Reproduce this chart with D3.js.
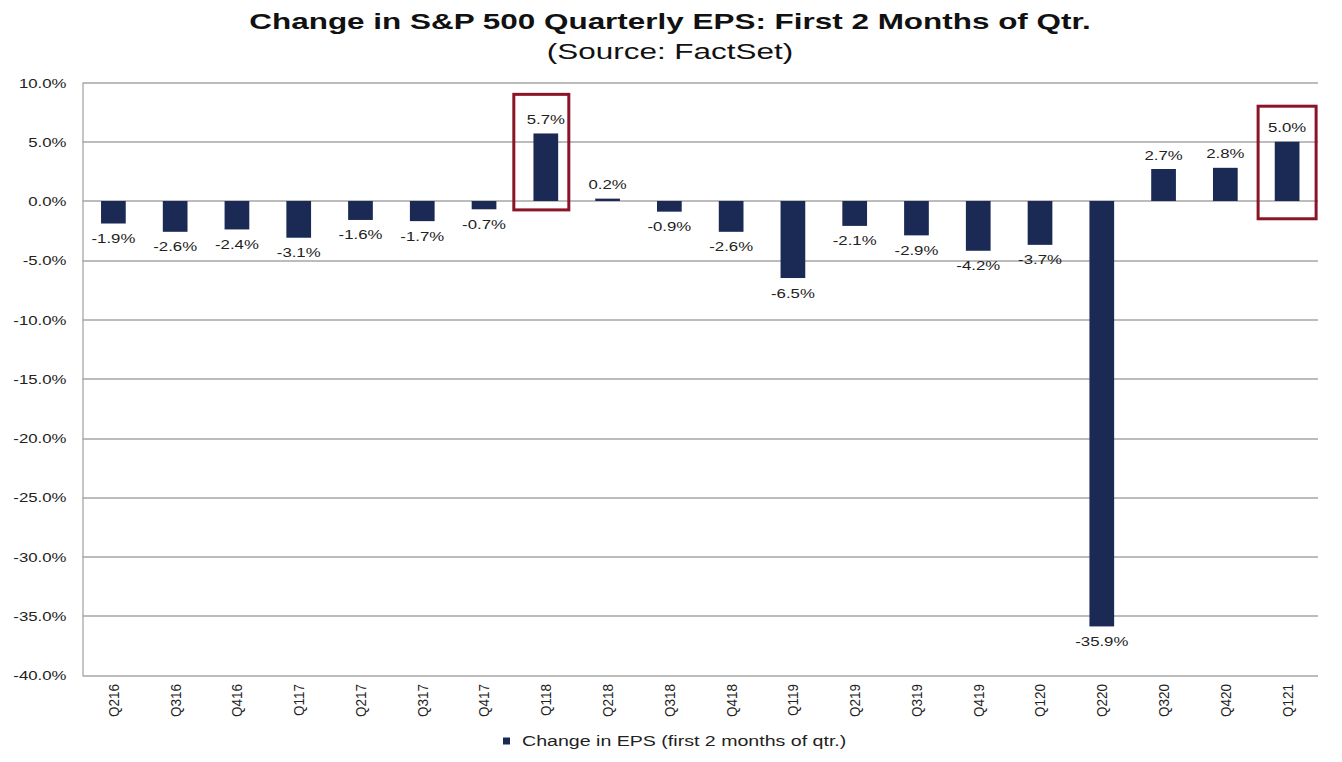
<!DOCTYPE html>
<html>
<head>
<meta charset="utf-8">
<script src="https://cdn.jsdelivr.net/npm/d3@7"></script>
<style>
  body { margin: 0; background: #fff; }
  svg { display: block; font-family: Arial, "Liberation Sans", sans-serif; }
</style>
</head>
<body>
<div id="chart"></div>
<script>
// chart data
const quarters = ['Q216', 'Q316', 'Q416', 'Q117', 'Q217', 'Q317', 'Q417', 'Q118', 'Q218', 'Q318',
  'Q418', 'Q119', 'Q219', 'Q319', 'Q419', 'Q120', 'Q220', 'Q320', 'Q420', 'Q121'];
const epsChange = [-1.9, -2.6, -2.4, -3.1, -1.6, -1.7, -0.7, 5.7, 0.2, -0.9,
  -2.6, -6.5, -2.1, -2.9, -4.2, -3.7, -35.9, 2.7, 2.8, 5.0];
const yTicks = [10, 5, 0, -5, -10, -15, -20, -25, -30, -35, -40];
const highlighted = ['Q118', 'Q121'];
const seriesName = 'Change in EPS (first 2 months of qtr.)';

const width = 1342;
const height = 762;
const margin = {top: 82.5, right: 24, bottom: 87, left: 82.5};
const innerW = width - margin.left - margin.right;
const innerH = height - margin.top - margin.bottom;

const barColor = '#1b2a55';
const gridColor = '#a6a6a6';
const boxColor = '#8b1426';
const textColor = '#222';
// the source picture is stretched sideways, so text is widened to match
const stretch = 1.4;

// percent with a plain hyphen for negatives
const pct = v => (v < 0 ? '-' : '') + Math.abs(v).toFixed(1) + '%';

function wideText(sel, x, y, sx) {
  return sel.attr('x', 0).attr('y', 0)
    .attr('transform', `translate(${x}, ${y}) scale(${sx}, 1)`);
}

const svg = d3.select('#chart')
  .append('svg')
  .attr('width', width)
  .attr('height', height);

// title
svg.append('text')
  .call(wideText, 670, 29, 1.43)
  .attr('text-anchor', 'middle')
  .style('font-size', '22px')
  .style('font-weight', 'bold')
  .attr('fill', '#111')
  .text('Change in S&P 500 Quarterly EPS: First 2 Months of Qtr.');
svg.append('text')
  .call(wideText, 670, 59, 1.43)
  .attr('text-anchor', 'middle')
  .style('font-size', '22px')
  .attr('fill', '#111')
  .text('(Source: FactSet)');

const g = svg.append('g')
  .attr('transform', `translate(${margin.left}, ${margin.top})`);

const x = d3.scaleBand()
  .domain(quarters)
  .range([0, innerW])
  .paddingInner(0.6)
  .paddingOuter(0.3);
const y = d3.scaleLinear()
  .domain([-40, 10])
  .range([innerH, 0]);

// gridlines
g.append('g')
  .selectAll('line')
  .data(yTicks)
  .enter().append('line')
  .attr('x1', 0)
  .attr('x2', innerW)
  .attr('y1', d => Math.round(y(d)) + 0.5)
  .attr('y2', d => Math.round(y(d)) + 0.5)
  .attr('stroke', gridColor)
  .attr('stroke-width', 1.3);

// y axis
const yAxis = g.append('g')
  .call(d3.axisLeft(y).tickValues(yTicks).tickSize(0).tickFormat(pct));
yAxis.select('.domain').attr('stroke', gridColor).attr('stroke-width', 1.3);
yAxis.selectAll('.tick text')
  .attr('dy', null)
  .attr('x', 0)
  .attr('transform', `translate(-16, 4.5) scale(${stretch}, 1)`)
  .style('font-size', '12px')
  .attr('fill', textColor)
  .attr('font-family', 'Arial, "Liberation Sans", sans-serif');

// x axis labels (rotated)
const xAxis = g.append('g')
  .attr('transform', `translate(0, ${innerH})`)
  .call(d3.axisBottom(x).tickSize(0).tickPadding(0));
xAxis.select('.domain').remove();
xAxis.selectAll('text')
  .attr('transform', 'rotate(-90) scale(1, 1.15)')
  .attr('x', -9)
  .attr('y', 0)
  .attr('dy', '0.35em')
  .style('text-anchor', 'end')
  .style('font-size', '13.5px')
  .attr('fill', textColor)
  .attr('font-family', 'Arial, "Liberation Sans", sans-serif');

// bars
g.selectAll('.bar')
  .data(quarters)
  .enter().append('rect')
  .attr('class', 'bar')
  .attr('x', d => x(d))
  .attr('width', x.bandwidth())
  .attr('y', (d, i) => y(Math.max(0, epsChange[i])))
  .attr('height', (d, i) => Math.abs(y(epsChange[i]) - y(0)))
  .attr('fill', barColor);

// value labels
g.selectAll('.label')
  .data(quarters)
  .enter().append('text')
  .attr('class', 'label')
  .each(function(d, i) {
    const v = epsChange[i];
    const ly = v >= 0 ? y(v) - 9.5 : y(v) + 19.5;
    d3.select(this).call(wideText, x(d) + x.bandwidth() / 2, ly, stretch);
  })
  .attr('text-anchor', 'middle')
  .style('font-size', '12px')
  .attr('fill', textColor)
  .text((d, i) => pct(epsChange[i]));

// highlight boxes
const boxes = [
  {q: 'Q118', dx0: -32, dx1: 23, top: 9.0, bottom: -0.75},
  {q: 'Q121', dx0: -29, dx1: 29, top: 8.0, bottom: -1.5}
];
g.selectAll('.hl')
  .data(boxes.filter(b => highlighted.includes(b.q)))
  .enter().append('rect')
  .attr('class', 'hl')
  .attr('x', b => x(b.q) + x.bandwidth() / 2 + b.dx0)
  .attr('width', b => b.dx1 - b.dx0)
  .attr('y', b => y(b.top))
  .attr('height', b => y(b.bottom) - y(b.top))
  .attr('fill', 'none')
  .attr('stroke', boxColor)
  .attr('stroke-width', 3);

// legend
const legend = svg.append('g')
  .attr('transform', 'translate(503, 741)');
legend.append('rect')
  .attr('x', 0)
  .attr('y', -3.5)
  .attr('width', 7)
  .attr('height', 7)
  .attr('fill', barColor);
legend.append('text')
  .call(wideText, 19, 5, stretch)
  .style('font-size', '14px')
  .attr('fill', textColor)
  .text(seriesName);
</script>
</body>
</html>
